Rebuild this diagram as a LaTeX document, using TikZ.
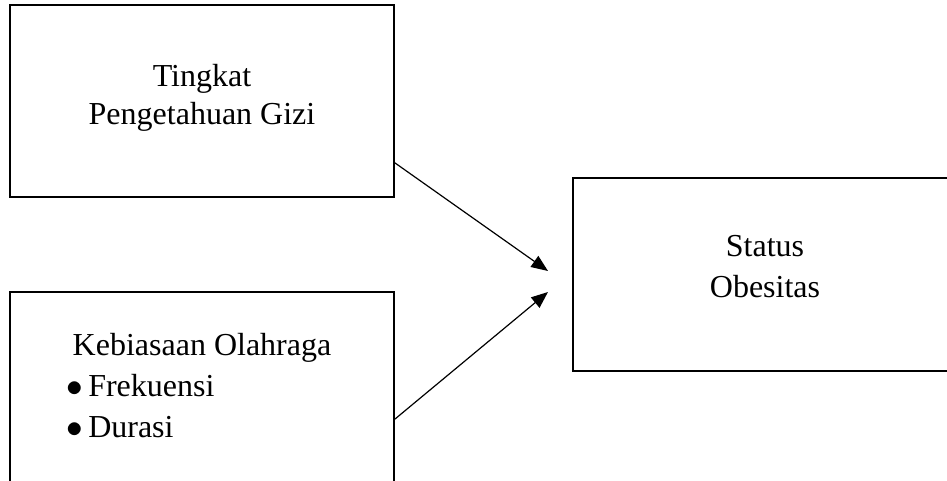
\documentclass[tikz,border=0pt]{standalone}
\usepackage{fontspec}
\setmainfont{Liberation Serif}
\usetikzlibrary{arrows.meta,calc}
\newcommand{\bigbul}{\makebox[16.5pt][l]{\fontsize{29}{29}\selectfont$\bullet$}}
\begin{document}
\begin{tikzpicture}[x=0.75pt,y=-0.75pt,
  box/.style={draw=black,line width=1.2pt,inner sep=0pt,fill=none},
  lbl/.style={anchor=base,inner sep=0pt,font=\fontsize{24}{28}\selectfont},
  lbll/.style={anchor=base west,inner sep=0pt,font=\fontsize{24}{28}\selectfont},
  conn/.style={line width=0.9pt,-{Triangle[length=12.5pt,width=10pt]}}]
\useasboundingbox (0,0) rectangle (947,481);
\clip (0,0) rectangle (947,481);
\fill[white] (0,0) rectangle (947,481);
% boxes
\node[box,minimum width=288pt,minimum height=144pt] (top) at (202,101) {};
\node[box,minimum width=288pt,minimum height=148.5pt] (bot) at (202,391) {};
\node[box,minimum width=290pt,minimum height=144.75pt] (res) at (766.5,274.5) {};
% texts
\node[lbl] (t1) at (202,87) {Tingkat};
\node[lbl] (t2) at (202,125) {Pengetahuan Gizi};
\node[lbl] (b1) at (202,355) {Kebiasaan Olahraga};
\node[lbll] (b2) at (66,397) {\bigbul Frekuensi};
\node[lbll] (b3) at (66,437) {\bigbul Durasi};
\node[lbl] (r1) at (765,257) {Status};
\node[lbl] (r2) at (765,298) {Obesitas};
% connectors
\coordinate (tip1) at (548,271);
\coordinate (tip2) at (548,292);
\draw[conn] ($(top.south east)+(0,-35)$) -- (tip1);
\draw[conn] ($(bot.north east)+(0,128)$) -- (tip2);
\end{tikzpicture}
\end{document}
